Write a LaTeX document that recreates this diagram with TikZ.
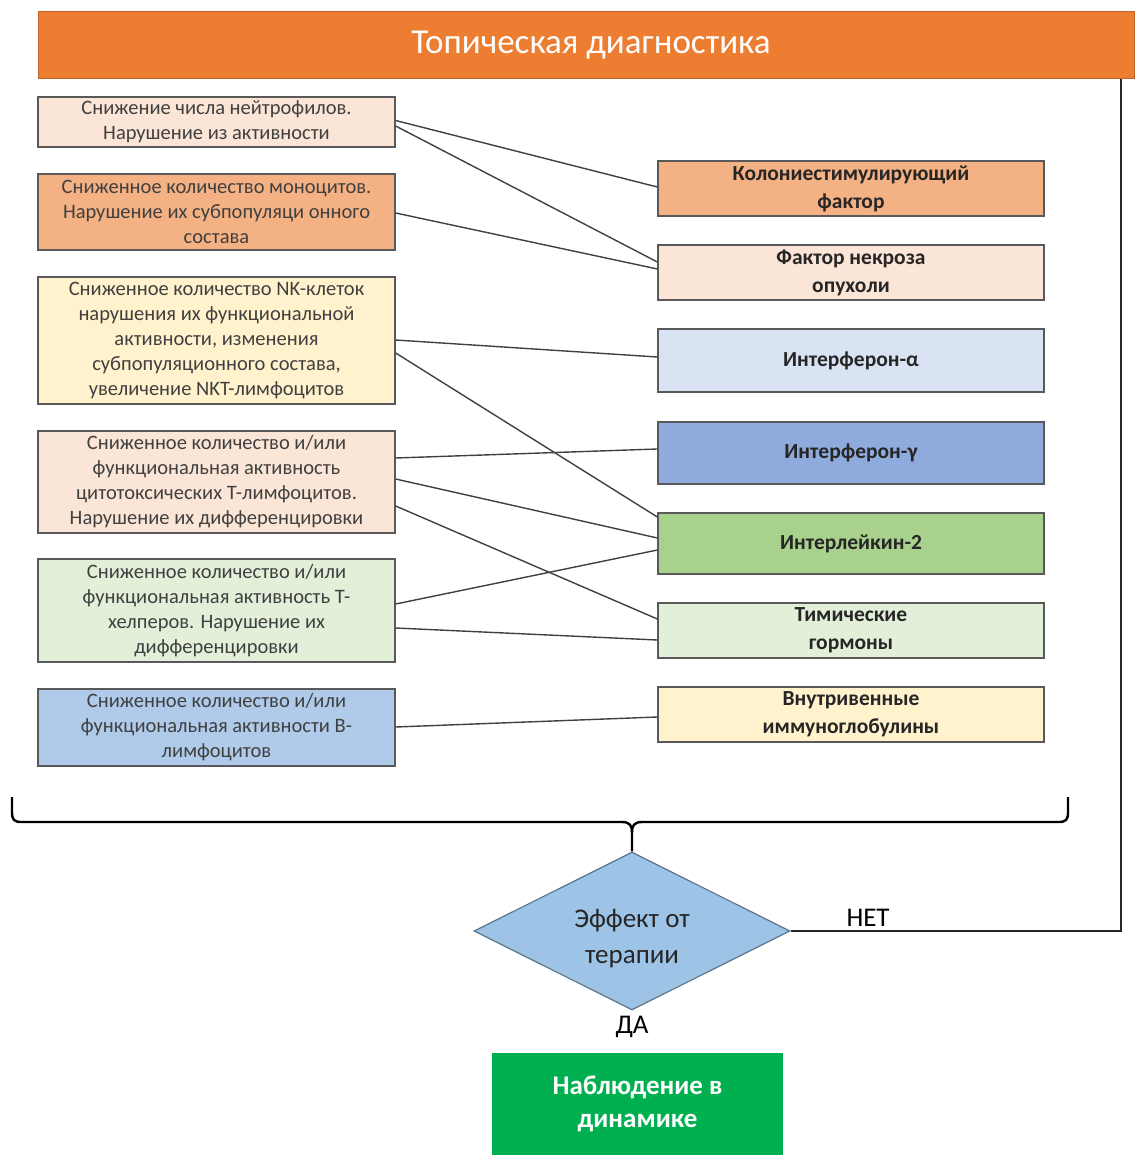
\documentclass[tikz,border=0pt]{standalone}
\usepackage{fontspec}
\setmainfont{Carlito}
\usetikzlibrary{shapes.geometric,calc}
\definecolor{peach}{HTML}{FBE5D6}
\definecolor{orangel}{HTML}{F4B183}
\definecolor{yell}{HTML}{FFF2CC}
\definecolor{greenl}{HTML}{E2F0D9}
\definecolor{bluel}{HTML}{B0CBEA}
\definecolor{lav}{HTML}{DAE3F3}
\definecolor{bluem}{HTML}{8FAADC}
\definecolor{greenm}{HTML}{A9D18E}
\definecolor{heador}{HTML}{ED7D31}
\definecolor{diamblue}{HTML}{9DC3E6}
\definecolor{obsgreen}{HTML}{00B050}
\definecolor{boxline}{HTML}{595959}
\definecolor{txtl}{HTML}{404040}
\begin{document}
\begin{tikzpicture}[x=1pt,y=-1pt,
  lbox/.style={draw=boxline, line width=1.3pt, minimum width=357pt, align=center,
    font=\fontsize{20.5}{25}\selectfont, text=txtl, inner sep=0pt},
  rbox/.style={draw=boxline, line width=1.3pt, minimum width=386pt, align=center,
    font=\fontsize{21.5}{28}\selectfont\bfseries, text=black!85, inner sep=0pt},
  conn/.style={draw=black!75, line width=1.4pt},
  lbl/.style={font=\fontsize{27}{30}\selectfont, text=black}]
\useasboundingbox (0,0) rectangle (1134,1155);

% header
\node[fill=heador, draw=heador!80!black, line width=1pt, minimum width=1096pt, minimum height=67pt, inner sep=0pt,
  text=white, font=\fontsize{35}{38}\selectfont] (head) at (586,45) {\hspace*{10pt}Топическая диагностика};

% left boxes
\node[lbox, fill=peach, minimum height=50pt] (l1) at (216.5,122) {Снижение числа нейтрофилов.\\Нарушение из активности};
\node[lbox, fill=orangel, minimum height=76pt] (l2) at (216.5,212) {Сниженное количество моноцитов.\\Нарушение их субпопуляци онного\\состава};
\node[lbox, fill=yell, minimum height=127pt] (l3) at (216.5,340.5) {Сниженное количество NK-клеток\\нарушения их функциональной\\активности, изменения\\субпопуляционного состава,\\увеличение NKT-лимфоцитов};
\node[lbox, fill=peach, minimum height=102pt] (l4) at (216.5,482) {Сниженное количество и/или\\функциональная активность\\цитотоксических Т-лимфоцитов.\\Нарушение их дифференцировки};
\node[lbox, fill=greenl, minimum height=103pt] (l5) at (216.5,610.5) {Сниженное количество и/или\\функциональная активность Т-\\хелперов. Нарушение их\\дифференцировки};
\node[lbox, fill=bluel, minimum height=77pt] (l6) at (216.5,727.5) {Сниженное количество и/или\\функциональная активности В-\\лимфоцитов};

% right boxes
\node[rbox, fill=orangel, minimum height=55pt] (r1) at (851,188.5) {Колониестимулирующий\\фактор};
\node[rbox, fill=peach, minimum height=55pt] (r2) at (851,272.5) {Фактор некроза\\опухоли};
\node[rbox, fill=lav, minimum height=63pt] (r3) at (851,360.5) {Интерферон-α};
\node[rbox, fill=bluem, minimum height=62pt] (r4) at (851,453) {Интерферон-γ};
\node[rbox, fill=greenm, minimum height=61pt] (r5) at (851,543.5) {Интерлейкин-2};
\node[rbox, fill=greenl, minimum height=55pt] (r6) at (851,630.5) {Тимические\\гормоны};
\node[rbox, fill=yell, minimum height=55pt] (r7) at (851,714.5) {Внутривенные\\иммуноглобулины};

% connectors
\draw[conn] ($(l1.east)+(0,-1.5)$) -- ($(r1.west)+(0,-1.5)$);
\draw[conn] ($(l1.east)+(0,4)$) -- ($(r2.west)+(0,-10.5)$);
\draw[conn] ($(l2.east)+(0,1)$) -- ($(r2.west)+(0,-3.5)$);
\draw[conn] ($(l3.east)+(0,-0.5)$) -- ($(r3.west)+(0,-3.5)$);
\draw[conn] ($(l3.east)+(0,12.5)$) -- ($(r5.west)+(0,-26.5)$);
\draw[conn] ($(l4.east)+(0,-24)$) -- ($(r4.west)+(0,-4)$);
\draw[conn] ($(l4.east)+(0,-3)$) -- ($(r5.west)+(0,-5.5)$);
\draw[conn] ($(l4.east)+(0,24)$) -- ($(r6.west)+(0,-11.5)$);
\draw[conn] ($(l5.east)+(0,-6.5)$) -- ($(r5.west)+(0,6.5)$);
\draw[conn] ($(l5.east)+(0,17.5)$) -- ($(r6.west)+(0,9.5)$);
\draw[conn] ($(l6.east)+(0,-0.5)$) -- ($(r7.west)+(0,2.5)$);

% decision
\node[diamond, aspect=2, minimum width=316pt, minimum height=158pt, inner sep=0pt, fill=diamblue,
  draw=diamblue!60!black, line width=1.2pt, align=center, font=\fontsize{27}{36}\selectfont, text=black!85]
  (dia) at (632,931) {\rule{0pt}{34pt}Эффект от\\терапии};

% brace
\draw[line width=2.4pt, black] (12,797) -- (12,812) .. controls (12,820) and (14,822) .. (22,822)
  -- (622,822) .. controls (630,822) and (632,826) .. (632,832) -- (dia.north);
\draw[line width=2.4pt, black] (1068,797) -- (1068,812) .. controls (1068,820) and (1066,822) .. (1058,822)
  -- (642,822) .. controls (634,822) and (632,826) .. (632,832);

% NO loop
\coordinate (corner) at (1121,931);
\draw[line width=1.5pt, black!85] (dia.east) -- (corner) -- (corner |- head.south);
\node[lbl] (net) at (868,918) {НЕТ};
\node[lbl] (da) at (632,1027) {ДА};

% result
\node[fill=obsgreen, minimum width=291pt, minimum height=102pt, inner sep=0pt, align=center,
  text=white, font=\fontsize{27}{33}\selectfont\bfseries] (obs) at (637.5,1104) {Наблюдение в\\динамике};
\end{tikzpicture}
\end{document}
